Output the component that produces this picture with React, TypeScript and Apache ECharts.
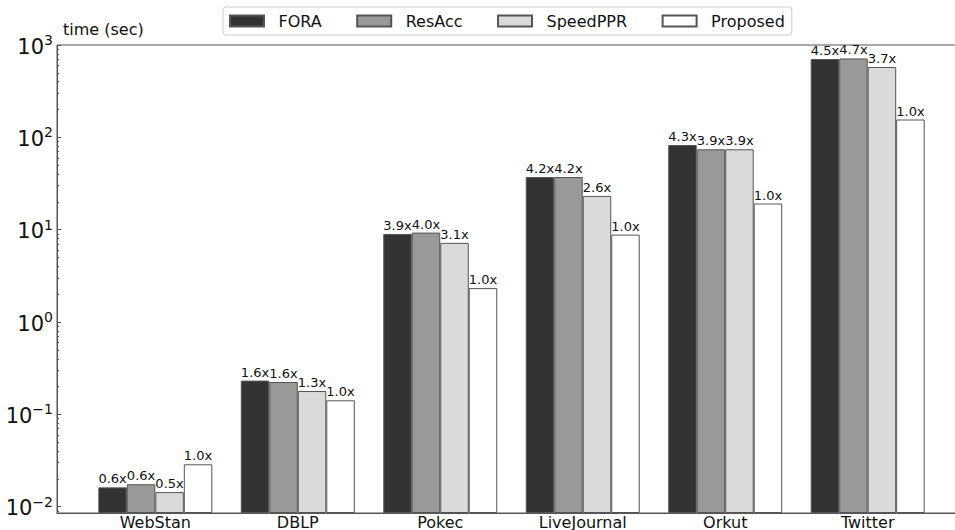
import React, { useEffect, useRef } from "react";
import * as echarts from "echarts";

const categories = ["WebStan", "DBLP", "Pokec", "LiveJournal", "Orkut", "Twitter"];
const seriesNames = ["FORA", "ResAcc", "SpeedPPR", "Proposed"];

const foraTimes = [0.0162, 0.232, 9.0, 37.2, 82.6, 705];
const resaccTimes = [0.0175, 0.224, 9.3, 37.2, 74.2, 715];
const speedpprTimes = [0.0144, 0.179, 7.2, 23.2, 74.2, 578];
const proposedTimes = [0.0288, 0.142, 2.33, 8.84, 19.2, 156];

const foraRatios = ["0.6x", "1.6x", "3.9x", "4.2x", "4.3x", "4.5x"];
const resaccRatios = ["0.6x", "1.6x", "4.0x", "4.2x", "3.9x", "4.7x"];
const speedpprRatios = ["0.5x", "1.3x", "3.1x", "2.6x", "3.9x", "3.7x"];
const proposedRatios = ["1.0x", "1.0x", "1.0x", "1.0x", "1.0x", "1.0x"];

const yMin = 0.00855;
const yMax = 1000;
const yMajorTicks = [0.01, 0.1, 1, 10, 100, 1000];
const yMinorTicks: number[] = [];
for (let e = -3; e < 3; e++) {
  for (let m = 2; m <= 9; m++) {
    const v = m * Math.pow(10, e);
    if (v > yMin && v < yMax) yMinorTicks.push(Number(v.toPrecision(3)));
  }
}

const FONT = "DejaVu Sans";

export default function App() {
  const ref = useRef<HTMLDivElement>(null);
  useEffect(() => {
    if (!ref.current) return;
    const chart = echarts.init(ref.current, undefined, { renderer: "svg" });
    const times = [foraTimes, resaccTimes, speedpprTimes, proposedTimes];
    const ratios = [foraRatios, resaccRatios, speedpprRatios, proposedRatios];
    const colors = ["#333333", "#999999", "#dadada", "#ffffff"];
    const offsets = [-0.3, -0.1, 0.1, 0.3];
    const series = seriesNames.map((name, s) => ({
      name,
      type: "bar",
      barWidth: 28.5,
      barGap: "-100%",
      data: times[s].map((v, i) => [i + offsets[s], v]),
      itemStyle: { color: colors[s], borderColor: "#555555", borderWidth: 1 },
      label: {
        show: true,
        position: "top",
        distance: 2,
        fontFamily: FONT,
        fontSize: 13,
        color: "#111",
        formatter: (p: any) => ratios[s][p.dataIndex],
      },
    }));
    chart.setOption({
      animation: false,
      backgroundColor: "#ffffff",
      textStyle: { fontFamily: FONT },
      title: {
        text: "time (sec)",
        left: 58,
        top: 16,
        textStyle: { fontFamily: FONT, fontSize: 16, fontWeight: "normal", color: "#111" },
      },
      legend: {
        data: seriesNames,
        left: 223,
        top: 7,
        itemWidth: 34,
        itemHeight: 11,
        itemGap: 34.5,
        padding: [6, 7, 6, 6],
        borderColor: "#cccccc",
        borderWidth: 1,
        borderRadius: 3,
        backgroundColor: "#ffffff",
        icon: "rect",
        textStyle: { fontFamily: FONT, fontSize: 16, color: "#111", padding: [0, 0, 0, 9.5] },
      },
      grid: {
        left: 57,
        top: 45,
        width: 909,
        height: 468,
        show: true,
        borderColor: "#555555",
        borderWidth: 1,
        containLabel: false,
        outerBoundsMode: "none",
      },
      xAxis: {
        type: "value",
        min: -0.69,
        max: 5.69,
        axisLine: { show: true, onZero: false, lineStyle: { color: "#555555" } },
        axisTick: { show: false },
        splitLine: { show: false },
        axisLabel: {
          customValues: [0, 1, 2, 3, 4, 5],
          formatter: (v: number) => categories[Math.round(v)] ?? "",
          fontFamily: FONT,
          fontSize: 16,
          lineHeight: 16,
          color: "#111",
          margin: 1,
        },
      },
      yAxis: [
        {
          type: "log",
          min: yMin,
          max: yMax,
          startValue: yMin,
          logBase: 10,
          axisLine: { show: true, onZero: false, lineStyle: { color: "#555555" } },
          axisTick: {
            show: true,
            inside: true,
            length: 4,
            customValues: yMajorTicks,
            lineStyle: { color: "#555555" },
          },
          splitLine: { show: false },
          axisLabel: {
            customValues: yMajorTicks,
            margin: 4,
            formatter: (v: number) => {
              const e = Math.round(Math.log10(v));
              return `{b|10}{s|${e < 0 ? "\u2212" + Math.abs(e) : e}}`;
            },
            rich: {
              b: { fontFamily: FONT, fontSize: 21, color: "#111", lineHeight: 24, verticalAlign: "bottom" },
              s: { fontFamily: FONT, fontSize: 14, color: "#111", lineHeight: 24, verticalAlign: "top", padding: [0, 0, 12, 0] },
            },
          },
        },
        {
          type: "log",
          min: yMin,
          max: yMax,
          logBase: 10,
          position: "left",
          axisLine: { show: false, onZero: false },
          axisLabel: { show: false },
          splitLine: { show: false },
          axisTick: {
            show: true,
            inside: true,
            length: 2,
            customValues: yMinorTicks,
            lineStyle: { color: "#555555" },
          },
        },
      ],
      series,
    });
    return () => chart.dispose();
  }, []);
  return (
    <div
      ref={ref}
      style={{ position: "fixed", left: 0, top: 0, width: 955, height: 530 }}
    />
  );
}
